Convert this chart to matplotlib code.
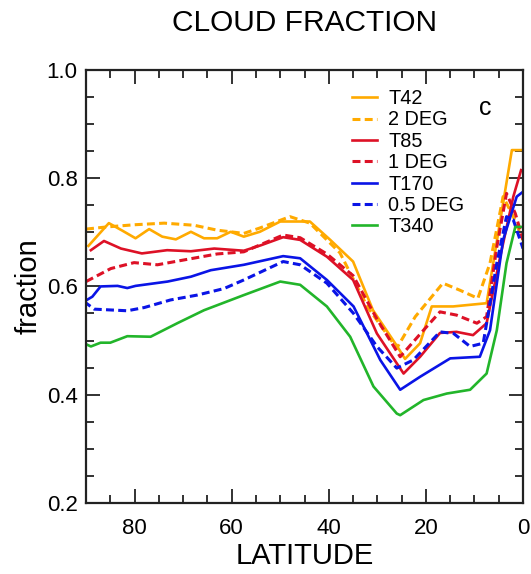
"""
Zonal mean cloud fraction vs latitude for several model resolutions
"""

import matplotlib
matplotlib.use("Agg")
import matplotlib.pyplot as plt
from matplotlib.ticker import MultipleLocator

plt.rcParams["font.family"] = ["Liberation Sans", "DejaVu Sans"]

# ---------------- DATA ----------------
t42_lat = [89.5, 85.3, 82.5, 79.8, 77, 74.3, 71.5, 68.4, 65.7, 63, 60.2, 57.5, 54.2, 50,
           43.9, 39.7, 35, 30.9, 25.9, 24.3, 21.2, 18.8, 14.4, 7.5, 2.3, 0]
t42_val = [0.675, 0.717, 0.703, 0.689, 0.706, 0.692, 0.687, 0.701, 0.689, 0.689, 0.701, 0.692,
           0.701, 0.72, 0.72, 0.686, 0.646, 0.556, 0.489, 0.466, 0.495, 0.563, 0.563, 0.569,
           0.852, 0.852]

deg2_lat = [90, 85.7, 80, 73.9, 67.7, 63, 57.5, 54.2, 48, 43.9, 37.7, 32.1, 26, 22.2, 16.5,
            13, 9.3, 6.8, 4.1, 2, 0]
deg2_val = [0.706, 0.71, 0.714, 0.717, 0.713, 0.704, 0.698, 0.708, 0.729, 0.717, 0.662, 0.563,
            0.486, 0.544, 0.606, 0.593, 0.578, 0.643, 0.766, 0.729, 0.686]

t85_lat = [89, 86.3, 82.8, 78.5, 73.3, 68.4, 63.6, 57.5, 54, 49.4, 45.9, 40.4, 35, 30.1, 24.6,
           21.2, 17.1, 13.7, 10.3, 7.5, 4.7, 2, 0.4]
t85_val = [0.667, 0.684, 0.670, 0.661, 0.667, 0.665, 0.670, 0.666, 0.676, 0.691, 0.686, 0.655,
           0.612, 0.513, 0.439, 0.470, 0.514, 0.516, 0.510, 0.532, 0.655, 0.766, 0.815]

deg1_lat = [90, 84.9, 80.1, 75.3, 69.8, 63, 57.5, 49.4, 45.9, 40.4, 35, 30.1, 25.3, 20.5,
            17.1, 13.7, 9.5, 7.5, 5.4, 3.4, 1.6, 0]
deg1_val = [0.609, 0.633, 0.644, 0.640, 0.649, 0.660, 0.664, 0.695, 0.690, 0.660, 0.620, 0.54,
            0.470, 0.519, 0.553, 0.547, 0.532, 0.544, 0.673, 0.772, 0.735, 0.686]

t170_lat = [90.4, 88.7, 87, 83.5, 81.5, 79.8, 73.2, 68.4, 64.3, 57.5, 49.4, 45.9, 40.4, 34.9,
            29.4, 25.3, 21.2, 15, 8.9, 6.8, 4.1, 1.3, 0]
t170_val = [0.572, 0.581, 0.600, 0.601, 0.597, 0.601, 0.609, 0.618, 0.630, 0.640, 0.656, 0.652,
            0.612, 0.563, 0.464, 0.409, 0.433, 0.467, 0.470, 0.519, 0.686, 0.766, 0.775]

deg05_lat = [90.4, 88.3, 81.5, 78, 72.6, 67.1, 61.6, 57.5, 49.4, 45.9, 40.4, 34.9, 30.1, 26,
             22.6, 17.1, 14.3, 10.9, 8.2, 5.4, 3.4, 2, 0]
deg05_val = [0.572, 0.558, 0.555, 0.561, 0.575, 0.584, 0.596, 0.612, 0.646, 0.640, 0.606, 0.550,
             0.489, 0.449, 0.464, 0.516, 0.513, 0.489, 0.495, 0.643, 0.729, 0.723, 0.670]

t340_lat = [90.4, 89, 87, 85, 81.5, 76.7, 71.2, 65.7, 57.5, 50, 45.9, 40.4, 35.6, 30.8, 26,
            25.3, 20.5, 15.7, 10.9, 7.5, 5.4, 3.4, 1.6, 0]
t340_val = [0.495, 0.489, 0.496, 0.496, 0.508, 0.507, 0.532, 0.556, 0.584, 0.609, 0.603, 0.563,
            0.507, 0.415, 0.365, 0.362, 0.390, 0.402, 0.409, 0.439, 0.519, 0.643, 0.710, 0.71]

ORANGE = "#ffaa00"
RED = "#dd1126"
BLUE = "#0a14e6"
GREEN = "#22b52a"

series = [
    ("T42", t42_lat, t42_val, ORANGE, "-"),
    ("2 DEG", deg2_lat, deg2_val, ORANGE, "--"),
    ("T85", t85_lat, t85_val, RED, "-"),
    ("1 DEG", deg1_lat, deg1_val, RED, "--"),
    ("T170", t170_lat, t170_val, BLUE, "-"),
    ("0.5 DEG", deg05_lat, deg05_val, BLUE, "--"),
    ("T340", t340_lat, t340_val, GREEN, "-"),
]

# ---------------- PLOT ----------------
fig = plt.figure(figsize=(5.31, 5.74), dpi=100)
ax = fig.add_axes([0.162, 0.124, 0.823, 0.754])

for name, lat, val, color, ls in series:
    if ls == "--":
        ax.plot(lat, val, color=color, lw=2.2, dashes=(2.6, 1.4), label=name)
    else:
        ax.plot(lat, val, color=color, lw=1.9, label=name)

ax.set_xlim(90, 0)
ax.set_ylim(0.2, 1.0)
ax.xaxis.set_major_locator(MultipleLocator(20))
ax.xaxis.set_minor_locator(MultipleLocator(5))
ax.yaxis.set_major_locator(MultipleLocator(0.2))
ax.yaxis.set_minor_locator(MultipleLocator(0.05))
ax.yaxis.set_major_formatter(plt.FuncFormatter(lambda v, p: f"{v:.1f}"))
ax.xaxis.set_major_formatter(plt.FuncFormatter(lambda v, p: f"{v:.0f}"))

ax.tick_params(which="both", direction="in", top=True, right=True, width=1.3,
               color="#222222", labelsize=16)
ax.tick_params(axis="x", which="both", pad=11)
ax.tick_params(axis="y", which="both", pad=6)
ax.tick_params(which="major", length=10)
ax.tick_params(which="minor", length=5.5)
for sp in ax.spines.values():
    sp.set_linewidth(1.6)
    sp.set_color("#222222")

ax.set_xlabel("LATITUDE", fontsize=21, labelpad=2)
ax.set_ylabel("fraction", fontsize=21, labelpad=3)
ax.set_title("CLOUD FRACTION", fontsize=21.5, pad=28)

ax.legend(loc="upper left", bbox_to_anchor=(0.609, 0.956), frameon=False, fontsize=14.3,
          handlelength=1.26, handletextpad=0.55, labelspacing=0.12, borderpad=0,
          borderaxespad=0)
ax.text(0.913, 0.912, "c", transform=ax.transAxes, fontsize=18, ha="center", va="center")

fig.savefig("out.png", dpi=100)
